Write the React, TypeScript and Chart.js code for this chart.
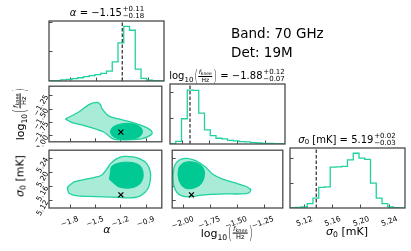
import React, { useEffect, useRef } from 'react';
import { Chart, registerables } from 'chart.js';

Chart.register(...registerables);

const FONT = "'DejaVu Sans', sans-serif";
const LINE = '#1fd19f';
const DARK = '#00c994';
const LIGHT = '#a8ecd7';
const FRAME = '#4a4a4a';
const TRUTH_COLOR = '#3a3a3a';

// axis ranges and ticks
const ALPHA_RANGE = [-2.052, -0.715];
const LOGF_RANGE = [-2.11, -1.075];
const SIGMA_RANGE = [5.1, 5.262];
const ALPHA_TICKS = [-1.8, -1.5, -1.2, -0.9];
const LOGF_TICKS = [-2.0, -1.75, -1.5, -1.25];
const SIGMA_TICKS = [5.12, 5.16, 5.2, 5.24];
const HIST_TICKS = [1000, 2000];

// truth values
const TRUTH_ALPHA = -1.2;
const TRUTH_LOGF = -1.93;
const TRUTH_SIGMA = 5.137;

// 1D histograms (20 bins over the axis range)
const ALPHA_COUNTS = [10, 15, 35, 55, 80, 110, 145, 180, 215, 260, 335, 650, 1290, 1855, 1720, 400, 90, 25, 10, 3];
const LOGF_COUNTS = [15, 105, 990, 2110, 2100, 1210, 555, 330, 225, 200, 145, 120, 95, 80, 55, 40, 28, 22, 15, 10];
const SIGMA_COUNTS = [13, 27, 40, 173, 400, 830, 850, 1640, 1650, 1670, 1930, 2200, 2000, 1950, 1000, 400, 173, 40, 13, 5];
const ALPHA_HIST_MAX = 2034;
const LOGF_HIST_MAX = 2352;
const SIGMA_HIST_MAX = 2410;

// 2D contours: alpha vs log10(fknee)
const AL_OUTER_ALPHA = [-1.858, -1.695, -1.579, -1.482, -1.443, -1.424, -1.346, -1.23, -1.075, -0.92, -0.842, -0.831, -0.881, -0.959, -1.075, -1.191, -1.288, -1.346, -1.404, -1.501, -1.656, -1.792, -1.858];
const AL_OUTER_LOGF = [-1.684, -1.551, -1.418, -1.377, -1.418, -1.493, -1.627, -1.684, -1.742, -1.829, -1.899, -1.957, -2.015, -2.056, -2.07, -2.075, -2.06, -1.997, -1.928, -1.87, -1.8, -1.742, -1.684];
const AL_INNER_ALPHA = [-1.327, -1.3, -1.23, -1.133, -1.036, -0.966, -0.943, -0.966, -1.036, -1.133, -1.23, -1.296, -1.327];
const AL_INNER_LOGF = [-1.928, -1.841, -1.789, -1.766, -1.783, -1.841, -1.916, -1.997, -2.05, -2.067, -2.056, -2.009, -1.928];

// alpha vs sigma0
const AS_OUTER_ALPHA = [-1.831, -1.753, -1.637, -1.521, -1.428, -1.369, -1.323, -1.253, -1.16, -1.055, -0.962, -0.893, -0.852, -0.85, -0.869, -0.916, -0.997, -1.114, -1.23, -1.404, -1.579, -1.718, -1.811, -1.831, -1.831];
const AS_OUTER_SIGMA = [5.1596, 5.173, 5.1798, 5.1852, 5.1919, 5.2081, 5.2243, 5.2377, 5.2445, 5.2431, 5.2364, 5.2243, 5.2027, 5.1811, 5.1596, 5.1434, 5.1313, 5.1286, 5.1299, 5.1313, 5.1326, 5.134, 5.1407, 5.1515, 5.1596];
const AS_INNER_ALPHA = [-1.323, -1.311, -1.253, -1.16, -1.055, -0.974, -0.939, -0.939, -0.974, -1.044, -1.137, -1.23, -1.288, -1.335, -1.329, -1.323];
const AS_INNER_SIGMA = [5.2027, 5.2162, 5.2243, 5.2283, 5.227, 5.2189, 5.2027, 5.1838, 5.1677, 5.1582, 5.1555, 5.1596, 5.1704, 5.1811, 5.1919, 5.2027];

// log10(fknee) vs sigma0
const LS_OUTER_LOGF = [-2.101, -2.087, -2.047, -1.983, -1.911, -1.847, -1.793, -1.73, -1.639, -1.521, -1.422, -1.376, -1.394, -1.476, -1.612, -1.748, -1.856, -1.947, -2.019, -2.065, -2.092, -2.101, -2.101];
const LS_OUTER_SIGMA = [5.1973, 5.2189, 5.2337, 5.2391, 5.235, 5.2256, 5.2135, 5.1946, 5.1811, 5.1704, 5.1609, 5.1515, 5.142, 5.1394, 5.1394, 5.138, 5.1353, 5.1313, 5.134, 5.1434, 5.1596, 5.1784, 5.1973];
const LS_INNER_LOGF = [-2.056, -2.042, -2.001, -1.938, -1.874, -1.829, -1.807, -1.816, -1.847, -1.911, -1.974, -2.019, -2.047, -2.056];
const LS_INNER_SIGMA = [5.1973, 5.2162, 5.227, 5.2296, 5.2256, 5.2162, 5.2, 5.1811, 5.165, 5.1555, 5.1542, 5.1623, 5.1784, 5.1973];

// panel grid (page pixels)
const COL_X = [49, 170, 290];
const ROW_Y = [21, 84, 148];
const PW = 115;
const PH = 60;

function fmt(v: number, d: number) {
  const s = Math.abs(v).toFixed(d);
  return (v < -1e-9 ? '\u2212' : '') + s;
}

function axis(range: number[], ticks: number[], labels: boolean, digits: number, size: number, horizontal: boolean) {
  return {
    type: 'linear',
    position: horizontal ? 'bottom' : 'left',
    min: range[0],
    max: range[1],
    bounds: 'data',
    afterBuildTicks: (s: any) => {
      s.ticks = ticks.map((v) => ({ value: v }));
    },
    afterFit: (s: any) => {
      if (horizontal) s.height = size;
      else s.width = size;
      s.paddingLeft = 0;
      s.paddingRight = 0;
      s.paddingTop = 0;
      s.paddingBottom = 0;
    },
    grid: { drawOnChartArea: false, drawTicks: true, tickLength: -3.5, color: FRAME, lineWidth: 1 },
    border: { display: false },
    ticks: {
      display: labels,
      autoSkip: false,
      color: '#000',
      font: { family: FONT, size: 7.5 },
      minRotation: horizontal ? 20 : 60,
      maxRotation: horizontal ? 20 : 60,
      padding: horizontal ? 10 : 5.5,
      labelOffset: horizontal ? (digits === 2 && range[0] < 0 ? 9.5 : 8) : 0,
      callback: (v: any) => fmt(Number(v), digits),
    },
  };
}

function histData(range: number[], counts: number[]) {
  const step = (range[1] - range[0]) / counts.length;
  const pts: { x: number; y: number }[] = [{ x: range[0], y: 0 }];
  counts.forEach((c, i) => pts.push({ x: range[0] + i * step, y: c }));
  pts.push({ x: range[1], y: 0 });
  return pts;
}

function zip(xs: number[], ys: number[]) {
  return xs.map((x, i) => ({ x, y: ys[i] }));
}

function histDatasets(range: number[], counts: number[], truth: number, max: number) {
  return [
    {
      data: [{ x: truth, y: 0 }, { x: truth, y: max }],
      showLine: true,
      borderColor: TRUTH_COLOR,
      borderDash: [3.5, 2],
      borderWidth: 1.3,
      pointRadius: 0,
    },
    {
      data: histData(range, counts),
      showLine: true,
      stepped: true,
      borderColor: LINE,
      borderWidth: 1.3,
      pointRadius: 0,
      fill: false,
    },
  ];
}

function contourDatasets(ox: number[], oy: number[], ix: number[], iy: number[], tx: number, ty: number) {
  return [
    {
      data: [{ x: tx, y: ty }],
      showLine: false,
      pointStyle: 'crossRot',
      pointRadius: 3.5,
      borderColor: '#000',
      borderWidth: 1.2,
      backgroundColor: '#000',
    },
    {
      data: zip(ix, iy),
      showLine: true,
      fill: 'shape',
      backgroundColor: DARK,
      borderColor: DARK,
      borderWidth: 1,
      pointRadius: 0,
      tension: 0.3,
    },
    {
      data: zip(ox, oy),
      showLine: true,
      fill: 'shape',
      backgroundColor: LIGHT,
      borderColor: LINE,
      borderWidth: 1.3,
      pointRadius: 0,
      tension: 0.3,
    },
  ];
}

const framePlugin = {
  id: 'frame',
  afterDraw(chart: any) {
    const { ctx, chartArea: a } = chart;
    ctx.save();
    ctx.strokeStyle = FRAME;
    ctx.lineWidth = 1.3;
    ctx.strokeRect(a.left, a.top, a.right - a.left, a.bottom - a.top);
    ctx.restore();
  },
};

type PanelSpec = {
  x: number;
  y: number;
  padL: number;
  padB: number;
  xAxis: any;
  yAxis: any;
  datasets: any[];
};

function Panel({ spec }: { spec: PanelSpec }) {
  const ref = useRef<HTMLCanvasElement>(null);
  const PT = 3;
  const PR = 3;
  const W = PW + spec.padL + PR;
  const H = PH + PT + spec.padB;
  useEffect(() => {
    const chart = new Chart(ref.current as HTMLCanvasElement, {
      type: 'scatter',
      data: { datasets: spec.datasets },
      options: {
        responsive: false,
        animation: false,
        devicePixelRatio: 1,
        events: [],
        layout: { padding: { top: PT, right: PR, left: 0, bottom: 0 } },
        plugins: { legend: { display: false }, tooltip: { enabled: false }, title: { display: false } },
        scales: { x: spec.xAxis, y: spec.yAxis },
      } as any,
      plugins: [framePlugin],
    });
    return () => chart.destroy();
  }, []);
  return (
    <canvas
      ref={ref}
      width={W}
      height={H}
      style={{ position: 'absolute', left: spec.x - spec.padL, top: spec.y - PT, width: W, height: H }}
    />
  );
}

function PlusMinus({ sup, sub }: { sup: string; sub: string }) {
  return (
    <span style={{ display: 'inline-flex', flexDirection: 'column', fontSize: '0.7em', lineHeight: 0.95, marginLeft: '0.12em' }}>
      <span>{sup}</span>
      <span>{sub}</span>
    </span>
  );
}

function LogFrac() {
  const paren = { display: 'inline-block', transform: 'scale(0.85,1.55)', margin: '0 0.04em', fontWeight: 300 } as any;
  return (
    <span style={{ display: 'inline-flex', alignItems: 'center' }}>
      <span>log</span>
      <span style={{ fontSize: '0.7em', alignSelf: 'flex-end', marginBottom: '-0.12em' }}>10</span>
      <span style={paren}>(</span>
      <span style={{ display: 'inline-flex', flexDirection: 'column', alignItems: 'center', fontSize: '0.6em', lineHeight: 1.05 }}>
        <span style={{ borderBottom: '0.7px solid #000', padding: '0 0.1em' }}>
          <i>f</i>
          <span style={{ fontSize: '0.75em', position: 'relative', top: '0.2em' }}>knee</span>
        </span>
        <span>Hz</span>
      </span>
      <span style={paren}>)</span>
    </span>
  );
}

function Sigma0() {
  return (
    <span>
      <i>σ</i>
      <span style={{ fontSize: '0.7em', position: 'relative', top: '0.25em' }}>0</span>
    </span>
  );
}

function Label({ x, y, size, rotate, children }: { x: number; y: number; size: number; rotate?: boolean; children: any }) {
  return (
    <div
      style={{
        position: 'absolute',
        left: x,
        top: y,
        transform: 'translate(-50%,-50%)' + (rotate ? ' rotate(-90deg)' : ''),
        whiteSpace: 'nowrap',
        fontFamily: FONT,
        fontSize: size,
        lineHeight: 1,
        color: '#000',
        display: 'flex',
        alignItems: 'center',
      }}
    >
      {children}
    </div>
  );
}

export default function App() {
  const specs: PanelSpec[] = [
    {
      x: COL_X[0], y: ROW_Y[0], padL: 3, padB: 3,
      xAxis: axis(ALPHA_RANGE, ALPHA_TICKS, false, 1, 3, true),
      yAxis: axis([0, ALPHA_HIST_MAX], HIST_TICKS, false, 0, 3, false),
      datasets: histDatasets(ALPHA_RANGE, ALPHA_COUNTS, TRUTH_ALPHA, ALPHA_HIST_MAX),
    },
    {
      x: COL_X[0], y: ROW_Y[1], padL: 40, padB: 3,
      xAxis: axis(ALPHA_RANGE, ALPHA_TICKS, false, 1, 3, true),
      yAxis: axis(LOGF_RANGE, LOGF_TICKS, true, 2, 40, false),
      datasets: contourDatasets(AL_OUTER_ALPHA, AL_OUTER_LOGF, AL_INNER_ALPHA, AL_INNER_LOGF, TRUTH_ALPHA, TRUTH_LOGF),
    },
    {
      x: COL_X[0], y: ROW_Y[2], padL: 40, padB: 28,
      xAxis: axis(ALPHA_RANGE, ALPHA_TICKS, true, 1, 28, true),
      yAxis: axis(SIGMA_RANGE, SIGMA_TICKS, true, 2, 40, false),
      datasets: contourDatasets(AS_OUTER_ALPHA, AS_OUTER_SIGMA, AS_INNER_ALPHA, AS_INNER_SIGMA, TRUTH_ALPHA, TRUTH_SIGMA),
    },
    {
      x: COL_X[1], y: ROW_Y[1], padL: 3, padB: 3,
      xAxis: axis(LOGF_RANGE, LOGF_TICKS, false, 2, 3, true),
      yAxis: axis([0, LOGF_HIST_MAX], HIST_TICKS, false, 0, 3, false),
      datasets: histDatasets(LOGF_RANGE, LOGF_COUNTS, TRUTH_LOGF, LOGF_HIST_MAX),
    },
    {
      x: COL_X[1], y: ROW_Y[2], padL: 3, padB: 28,
      xAxis: axis(LOGF_RANGE, LOGF_TICKS, true, 2, 28, true),
      yAxis: axis(SIGMA_RANGE, SIGMA_TICKS, false, 2, 3, false),
      datasets: contourDatasets(LS_OUTER_LOGF, LS_OUTER_SIGMA, LS_INNER_LOGF, LS_INNER_SIGMA, TRUTH_LOGF, TRUTH_SIGMA),
    },
    {
      x: COL_X[2], y: ROW_Y[2], padL: 3, padB: 28,
      xAxis: axis(SIGMA_RANGE, SIGMA_TICKS, true, 2, 28, true),
      yAxis: axis([0, SIGMA_HIST_MAX], HIST_TICKS, false, 0, 3, false),
      datasets: histDatasets(SIGMA_RANGE, SIGMA_COUNTS, TRUTH_SIGMA, SIGMA_HIST_MAX),
    },
  ];

  return (
    <div style={{ position: 'fixed', left: 0, top: 0, width: 411, height: 251, background: '#fff', overflow: 'hidden' }}>
      {specs.map((s, i) => (
        <Panel key={i} spec={s} />
      ))}

      <Label x={107} y={13} size={10}>
        <span><i>α</i> = {'\u2212'}1.15</span>
        <PlusMinus sup="+0.11" sub={'\u22120.18'} />
      </Label>
      <Label x={227} y={76} size={10}>
        <LogFrac />
        <span>&nbsp;= {'\u2212'}1.88</span>
        <PlusMinus sup="+0.12" sub={'\u22120.07'} />
      </Label>
      <Label x={347} y={140} size={10}>
        <Sigma0 />
        <span>&nbsp;[mK] = 5.19</span>
        <PlusMinus sup="+0.02" sub={'\u22120.03'} />
      </Label>

      <div style={{ position: 'absolute', left: 231, top: 24, fontFamily: FONT, fontSize: 13.5, lineHeight: '19px', color: '#000', whiteSpace: 'nowrap' }}>
        <div>Band: 70 GHz</div>
        <div>Det: 19M</div>
      </div>

      <Label x={107} y={229} size={11}>
        <i>α</i>
      </Label>
      <Label x={227} y={233} size={11}>
        <LogFrac />
      </Label>
      <Label x={347} y={231} size={11}>
        <Sigma0 />
        <span>&nbsp;[mK]</span>
      </Label>
      <Label x={20} y={114} size={11} rotate>
        <LogFrac />
      </Label>
      <Label x={20} y={176} size={11} rotate>
        <Sigma0 />
        <span>&nbsp;[mK]</span>
      </Label>
    </div>
  );
}
